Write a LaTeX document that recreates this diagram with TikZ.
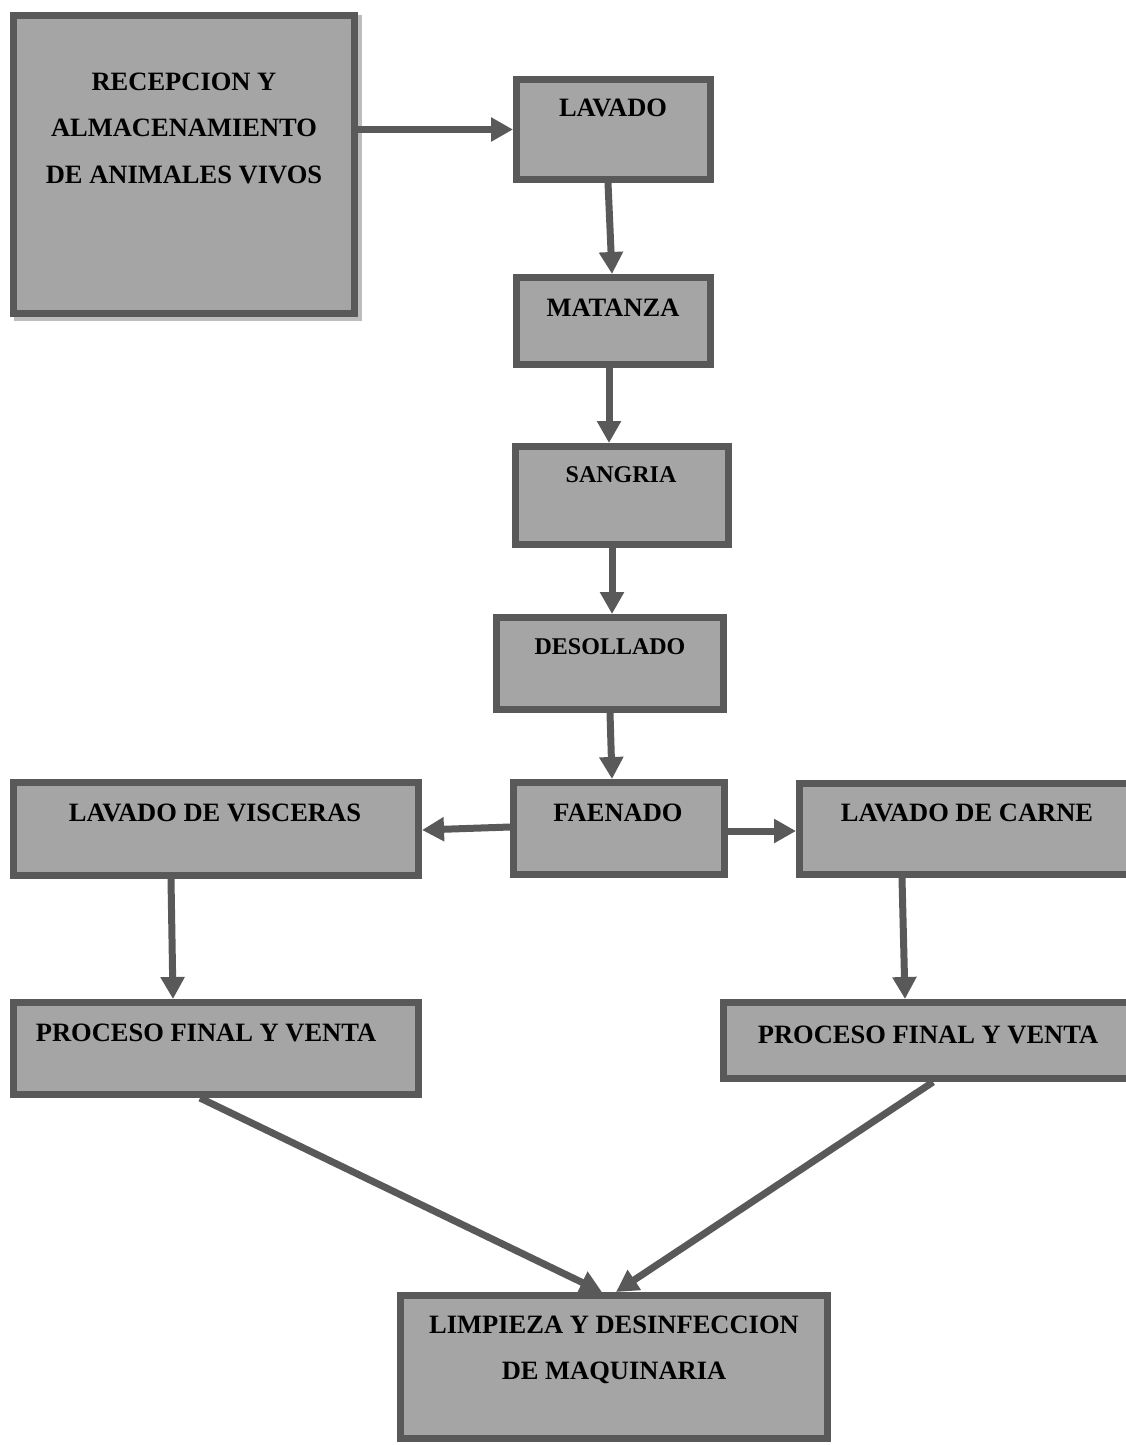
\documentclass[tikz,border=0pt]{standalone}
\usepackage{fontspec}
\setmainfont{Liberation Serif}
\usetikzlibrary{arrows.meta,backgrounds}
\definecolor{boxfill}{HTML}{A5A5A5}
\definecolor{boxline}{HTML}{595959}
\definecolor{shadowgray}{HTML}{BDBDBD}
\begin{document}
\begin{tikzpicture}[x=1pt,y=-1pt,
  box/.style={draw=boxline, fill=boxfill, line width=7pt, rectangle, inner sep=0pt},
  arr/.style={draw=boxline, line width=7pt, -{Triangle[length=22pt,width=23pt]}},
  lbl/.style={font=\fontsize{26.5}{46.5}\selectfont\bfseries, align=center, inner sep=0pt, text=black},
  lbls/.style={lbl, font=\fontsize{24}{30}\selectfont\bfseries}]
\useasboundingbox (0,0) rectangle (1126,1445);
\clip (0,0) rectangle (1126,1445);

% boxes
\node[box, minimum width=341pt, minimum height=298pt] (recep) at (184,164.5) {};
\node[box, minimum width=194pt, minimum height=100pt] (lavado) at (613.5,129.5) {};
\node[box, minimum width=194pt, minimum height=87pt] (matanza) at (613.5,321) {};
\node[box, minimum width=213pt, minimum height=98pt] (sangria) at (622,495.5) {};
\node[box, minimum width=227pt, minimum height=92pt] (desollado) at (610,663.5) {};
\node[box, minimum width=211pt, minimum height=92pt] (faenado) at (619,828.5) {};
\node[box, minimum width=405pt, minimum height=93pt] (visceras) at (216,829) {};
\node[box, minimum width=337pt, minimum height=91pt] (carne) at (968,829) {};
\node[box, minimum width=405pt, minimum height=92pt] (procL) at (216,1048.5) {};
\node[box, minimum width=413pt, minimum height=76pt] (procR) at (930,1040.5) {};
\node[box, minimum width=427pt, minimum height=143pt] (limpieza) at (614,1367) {};

% shadow of the first box
\begin{scope}[on background layer]
\fill[shadowgray] ([xshift=3.5pt,yshift=-3.5pt]recep.south west) rectangle ([xshift=3.5pt,yshift=-3.5pt]recep.north east);
\end{scope}

% texts
\node[lbl] (t-recep) at (184,128) {RECEPCION Y\\ALMACENAMIENTO\\DE ANIMALES VIVOS};
\node[lbl] (t-lavado) at (613,108) {LAVADO};
\node[lbl] (t-matanza) at (613,308) {MATANZA};
\node[lbls] (t-sangria) at (621,475) {SANGRIA};
\node[lbls] (t-desollado) at (610,647) {DESOLLADO};
\node[lbl] (t-faenado) at (618,813) {FAENADO};
\node[lbl] (t-visceras) at (215,813) {LAVADO DE VISCERAS};
\node[lbl] (t-carne) at (967,813) {LAVADO DE CARNE};
\node[lbl] (t-procL) at (206,1033) {PROCESO FINAL Y VENTA};
\node[lbl] (t-procR) at (928,1035) {PROCESO FINAL Y VENTA};
\node[lbl] (t-limpieza) at (614,1350) {LIMPIEZA Y DESINFECCION\\DE MAQUINARIA};

% connectors
\draw[arr] (recep.east |- lavado.west) -- (lavado.west);
\draw[arr] ([xshift=-5.5pt]lavado.south) -- ([xshift=-1.5pt]matanza.north);
\draw[arr] ([xshift=-4.5pt]matanza.south) -- ([xshift=-13pt]sangria.north);
\draw[arr] ([xshift=-10pt]sangria.south) -- ([xshift=2pt]desollado.north);
\draw[arr] (desollado.south) -- ([xshift=-7pt]faenado.north);
\draw[arr] ([yshift=1.5pt]faenado.west) -- ([yshift=-1pt]visceras.east);
\draw[arr] ([yshift=-2.5pt]faenado.east) -- ([yshift=-2pt]carne.west);
\draw[arr] ([xshift=-45pt]visceras.south) -- ([xshift=-43pt]procL.north);
\draw[arr] ([xshift=-66pt]carne.south) -- ([xshift=-25pt]procR.north);
\draw[arr] ([xshift=-16pt]procL.south) -- ([xshift=-12pt]limpieza.north);
\draw[arr] ([xshift=3pt]procR.south) -- ([xshift=2pt]limpieza.north);
\end{tikzpicture}
\end{document}
